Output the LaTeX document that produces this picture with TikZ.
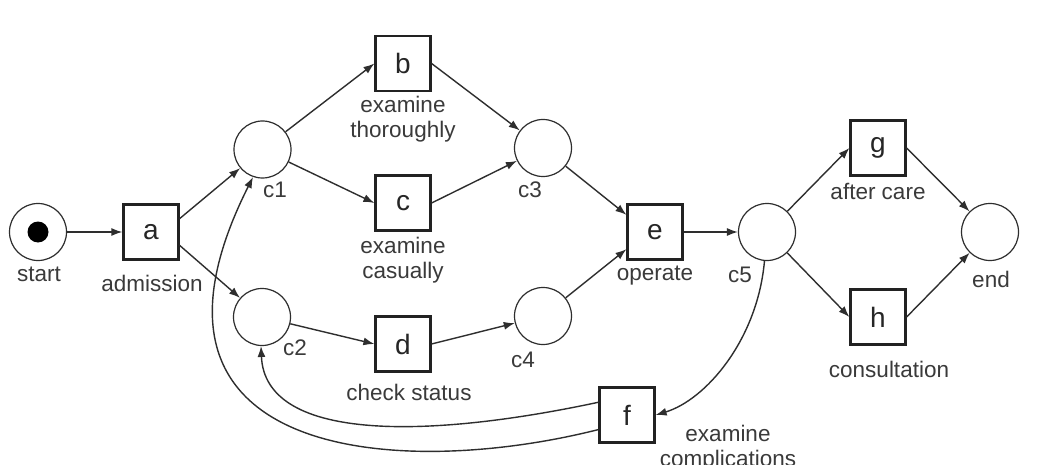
\documentclass[tikz,border=0pt]{standalone}
\usepackage{fontspec}
\setmainfont{Liberation Sans}
\usetikzlibrary{arrows.meta}
\definecolor{ln}{HTML}{2E2E2E}
\definecolor{tx}{HTML}{3A3A3A}
\definecolor{bx}{HTML}{222222}
\tikzset{
  place/.style={circle, draw=ln, line width=1.2pt, minimum size=57pt, inner sep=0pt},
  trans/.style={rectangle, draw=bx, line width=2.2pt, minimum size=55pt, inner sep=0pt,
                font=\fontsize{28}{30}\selectfont, text=black!85},
  lbl/.style={anchor=base, text=tx, font=\fontsize{22.5}{25}\selectfont, inner sep=0pt, align=center},
  arc/.style={draw=ln, line width=1.4pt, -{Latex[length=11pt,width=8pt]}},
  token/.style={circle, fill=black, minimum size=21pt, inner sep=0pt},
}
\begin{document}
\begin{tikzpicture}[x=1pt,y=-1pt]
\path[use as bounding box] (0,0) rectangle (1051,465);
\clip (0,0) rectangle (1051,465);
\fill[white] (0,0) rectangle (1051,465);

% places
\node[place] (start) at (38,232) {};
\node[token] (tok) at (start) {};
\node[place] (c1) at (262.5,149.5) {};
\node[place] (c2) at (262,317) {};
\node[place] (c3) at (543,148) {};
\node[place] (c4) at (543,316) {};
\node[place] (c5) at (767,232) {};
\node[place] (end) at (990,232) {};

% transitions
\node[trans] (a) at (151,232) {a};
\node[trans] (b) at (403,63.5) {b};
\node[trans] (c) at (403,203) {c};
\node[trans] (d) at (403,344) {d};
\node[trans] (e) at (655,232) {e};
\node[trans] (f) at (627,415) {f};
\node[trans] (g) at (878,148) {g};
\node[trans] (h) at (878,317) {h};

% labels (multi-line labels anchored at the baseline of their last line)
\node[lbl] (lstart) at (39,281) {start};
\node[lbl] (la) at (152,291) {admission};
\node[lbl] (lc1) at (275,197) {c1};
\node[lbl] (lc2) at (295,355) {c2};
\node[lbl] (lc3) at (530,197) {c3};
\node[lbl] (lc4) at (523,367) {c4};
\node[lbl] (lc5) at (740,282) {c5};
\node[lbl] (lend) at (991,287) {end};
\node[lbl] (lb) at (403,138) {examine\\thoroughly};
\node[lbl] (lc) at (403,278) {examine\\casually};
\node[lbl] (ld) at (409,400) {check status};
\node[lbl] (le) at (655,280) {operate};
\node[lbl] (lg) at (878,200) {after care};
\node[lbl] (lh) at (889,377) {consultation};
\node[lbl] (lf) at (728,466) {examine\\complications};

% arcs
\draw[arc] (start) -- (a);
\draw[arc] (a.25) -- (c1);
\draw[arc] (a.-25) -- (c2);
\draw[arc] (c1) -- (b.west);
\draw[arc] (c1) -- (c.west);
\draw[arc] (c2) -- (d.west);
\draw[arc] (b.east) -- (c3);
\draw[arc] (c.east) -- (c3);
\draw[arc] (d.east) -- (c4);
\draw[arc] (c3) -- (e.149);
\draw[arc] (c4) -- (e.211);
\draw[arc] (e) -- (c5);
\draw[arc] (c5) -- (g.west);
\draw[arc] (c5) -- (h.west);
\draw[arc] (g.east) -- (end);
\draw[arc] (h.east) -- (end);
\draw[arc] (c5.-95) .. controls +(-7,79) and +(50,-15) .. (f.east);
\draw[arc] (f.156) .. controls +(-178,38) and +(4,94) .. (c2.-92);
\draw[arc] (f.207) .. controls +(-198,50) and +(-143,284) .. (c1.251);
\end{tikzpicture}
\end{document}
